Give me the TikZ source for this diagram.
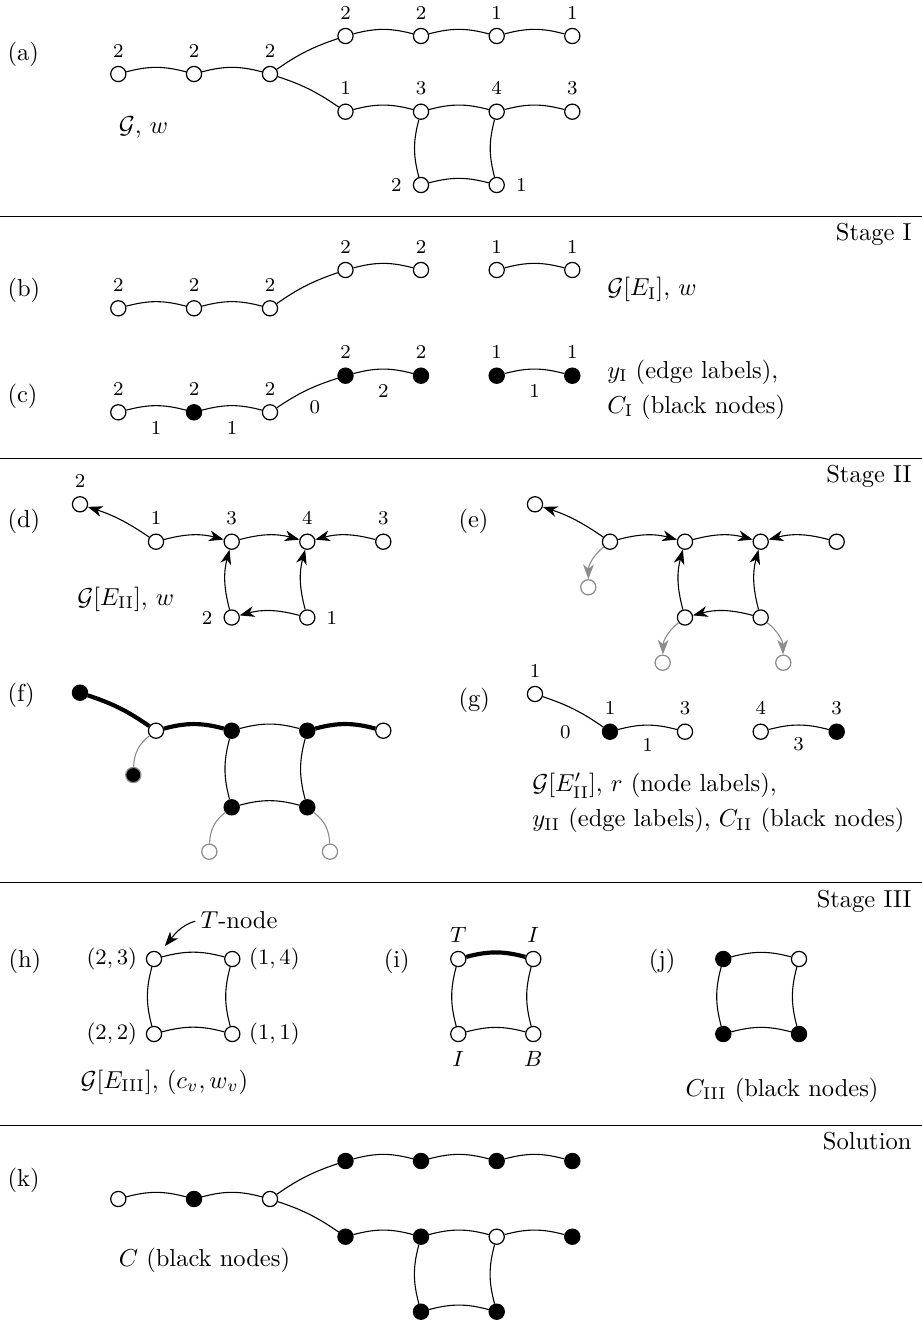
\documentclass[tikz,border=0pt]{standalone}
\usetikzlibrary{arrows.meta}
\tikzset{
  wn/.style={circle, draw=black, fill=white, line width=0.5pt, minimum size=6.2pt, inner sep=0pt},
  bn/.style={wn, fill=black},
  gn/.style={wn, draw=black!45},
  gbn/.style={wn, fill=black, draw=black!45},
  bl/.style={bend left=15},
  bd/.style={bend left=8},
  thk/.style={line width=1.7pt},
  ge/.style={draw=black!45},
  arr/.style={-{Stealth[length=6pt,width=4.4pt,inset=1.8pt]}},
  rarr/.style={{Stealth[length=6pt,width=4.4pt,inset=1.8pt]}-},
  every label/.style={font=\footnotesize},
  sml/.style={font=\small},
  sec/.style={anchor=west, inner sep=0pt},
  txt/.style={anchor=base west, inner sep=0pt},
  stage/.style={anchor=base east, inner sep=0pt},
  sepline/.style={line width=0.6pt},
  elbl/.style={font=\footnotesize, inner sep=0pt},
}
\begin{document}
\begin{tikzpicture}[x=0.408pt, y=-0.408pt, line width=0.45pt]
\useasboundingbox (0,0) rectangle (922,1325);

% separators and stage titles
\draw[sepline] (0,216.7) -- (922,216.7);
\draw[sepline] (0,458.3) -- (922,458.3);
\draw[sepline] (0,882.7) -- (922,882.7);
\draw[sepline] (0,1125.5) -- (922,1125.5);
\node[stage] (s1) at (912,240.5) {Stage I};
\node[stage] (s2) at (912,482.5) {Stage II};
\node[stage] (s3) at (912,907) {Stage III};
\node[stage] (s4) at (912,1149.5) {Solution};

% ---------------- (a)
\node[sec] (la) at (7,54) {(a)};
\node[wn,label=above:2] (a1) at (118.3,74) {};
\node[wn,label=above:2] (a2) at (194,74) {};
\node[wn,label=above:2] (a3) at (270,74) {};
\node[wn,label=above:2] (a4) at (345.5,36) {};
\node[wn,label=above:2] (a5) at (421,36) {};
\node[wn,label=above:1] (a6) at (496.7,36) {};
\node[wn,label=above:1] (a7) at (572.3,36) {};
\node[wn,label=above:1] (a8) at (345.5,111.7) {};
\node[wn,label=above:3] (a9) at (421,111.7) {};
\node[wn,label=above:4] (a10) at (496.7,111.7) {};
\node[wn,label=above:3] (a11) at (572.3,111.7) {};
\node[wn,label={[label distance=1pt]left:2}] (a12) at (421,185) {};
\node[wn,label={[label distance=1pt]right:1}] (a13) at (496.7,185) {};
\draw (a1) to[bl] (a2);
\draw (a2) to[bl] (a3);
\draw (a3) to[bd] (a4);
\draw (a4) to[bl] (a5);
\draw (a5) to[bl] (a6);
\draw (a6) to[bl] (a7);
\draw (a3) to[bd] (a8);
\draw (a8) to[bl] (a9);
\draw (a9) to[bl] (a10);
\draw (a10) to[bl] (a11);
\draw (a12) to[bl] (a9);
\draw (a13) to[bl] (a10);
\draw (a12) to[bl] (a13);
\node[txt] (ta) at (118.3,133.3) {$\mathcal{G}$, $w$};

% ---------------- (b)
\node[sec] (lb) at (7,290) {(b)};
\node[wn,label=above:2] (b1) at (118.3,308.3) {};
\node[wn,label=above:2] (b2) at (194,308.3) {};
\node[wn,label=above:2] (b3) at (270,308.3) {};
\node[wn,label=above:2] (b4) at (345.5,270) {};
\node[wn,label=above:2] (b5) at (421,270) {};
\node[wn,label=above:1] (b6) at (496.7,270) {};
\node[wn,label=above:1] (b7) at (572.3,270) {};
\draw (b1) to[bl] (b2);
\draw (b2) to[bl] (b3);
\draw (b3) to[bd] (b4);
\draw (b4) to[bl] (b5);
\draw (b6) to[bl] (b7);
\node[txt] (tb) at (606.7,295.7) {$\mathcal{G}[E_{\mathrm{I}}]$, $w$};

% ---------------- (c)
\node[sec] (lc) at (7,396.7) {(c)};
\node[wn,label=above:2] (c1) at (118.3,412.3) {};
\node[bn,label=above:2] (c2) at (194,412.3) {};
\node[wn,label=above:2] (c3) at (270,412.3) {};
\node[bn,label=above:2] (c4) at (345.5,375.7) {};
\node[bn,label=above:2] (c5) at (421,375.7) {};
\node[bn,label=above:1] (c6) at (496.7,375.7) {};
\node[bn,label=above:1] (c7) at (572.3,375.7) {};
\draw (c1) to[bl] node[elbl,yshift=-9pt] {1} (c2);
\draw (c2) to[bl] node[elbl,yshift=-9pt] {1} (c3);
\draw (c3) to[bd] node[elbl,xshift=3.6pt,yshift=-6.9pt] {0} (c4);
\draw (c4) to[bl] node[elbl,yshift=-8.9pt] {2} (c5);
\draw (c6) to[bl] node[elbl,yshift=-8.9pt] {1} (c7);
\node[txt] (tc1) at (606.7,378.3) {$y_{\mathrm{I}}$ (edge labels),};
\node[txt] (tc2) at (606.7,413.3) {$C_{\mathrm{I}}$ (black nodes)};

% ---------------- (d)
\node[sec] (ld) at (7,521.7) {(d)};
\node[wn,label=above:2] (d0) at (80,504.3) {};
\node[wn,label=above:1] (d1) at (156,541.7) {};
\node[wn,label=above:3] (d2) at (231.7,541.7) {};
\node[wn,label=above:4] (d3) at (307.3,541.7) {};
\node[wn,label=above:3] (d4) at (383.3,541.7) {};
\node[wn,label={[label distance=1pt]left:2}] (d5) at (231.7,617.5) {};
\node[wn,label={[label distance=1pt]right:1}] (d6) at (307.3,617.5) {};
\draw[rarr] (d0) to[bd] (d1);
\draw[arr] (d1) to[bl] (d2);
\draw[arr] (d2) to[bl] (d3);
\draw[rarr] (d3) to[bl] (d4);
\draw[arr] (d5) to[bl] (d2);
\draw[arr] (d6) to[bl] (d3);
\draw[rarr] (d5) to[bl] (d6);
\node[txt] (td) at (76.7,605) {$\mathcal{G}[E_{\mathrm{II}}]$, $w$};

% ---------------- (e)
\node[sec] (le) at (458,521.7) {(e)};
\node[wn] (e0) at (535,504.3) {};
\node[wn] (e1) at (610,541.7) {};
\node[wn] (e2) at (685,541.7) {};
\node[wn] (e3) at (760.7,541.7) {};
\node[wn] (e4) at (836.7,541.7) {};
\node[wn] (e5) at (685,617.5) {};
\node[wn] (e6) at (760.7,617.5) {};
\node[gn] (eg1) at (588.3,587.3) {};
\node[gn] (eg2) at (662.7,662.7) {};
\node[gn] (eg3) at (783.3,662.7) {};
\draw[rarr] (e0) to[bd] (e1);
\draw[arr] (e1) to[bl] (e2);
\draw[arr] (e2) to[bl] (e3);
\draw[rarr] (e3) to[bl] (e4);
\draw[arr] (e5) to[bl] (e2);
\draw[arr] (e6) to[bl] (e3);
\draw[rarr] (e5) to[bl] (e6);
\draw[ge,arr] (e1) to[bend right=25] (eg1);
\draw[ge,arr] (e5) to[bend right=25] (eg2);
\draw[ge,arr] (e6) to[bend left=25] (eg3);

% ---------------- (f)
\node[sec] (lf) at (7,695) {(f)};
\node[bn] (f0) at (80,692.7) {};
\node[wn] (f1) at (156,730.7) {};
\node[bn] (f2) at (231.7,730.7) {};
\node[bn] (f3) at (307.3,730.7) {};
\node[wn] (f4) at (383.3,730.7) {};
\node[bn] (f5) at (231.7,807.3) {};
\node[bn] (f6) at (307.3,807.3) {};
\node[gbn] (fg0) at (133.3,775) {};
\node[gn] (fg1) at (209.3,851.7) {};
\node[gn] (fg2) at (330,851.7) {};
\draw[thk] (f0) to[bd] (f1);
\draw[thk] (f1) to[bl] (f2);
\draw (f2) to[bl] (f3);
\draw[thk] (f3) to[bl] (f4);
\draw (f5) to[bl] (f2);
\draw (f6) to[bl] (f3);
\draw (f5) to[bl] (f6);
\draw[ge] (f1) to[bend right=25] (fg0);
\draw[ge] (f5) to[bend right=25] (fg1);
\draw[ge] (f6) to[bend left=25] (fg2);

% ---------------- (g)
\node[sec] (lg) at (458,700) {(g)};
\node[wn,label=above:1] (g0) at (535,694) {};
\node[bn,label=above:1] (g1) at (610,731.7) {};
\node[wn,label=above:3] (g2) at (685,731.7) {};
\node[wn,label=above:4] (g3) at (760.7,731.7) {};
\node[bn,label=above:3] (g4) at (836.7,731.7) {};
\draw (g0) to[bd] node[elbl,xshift=-3.6pt,yshift=-9.4pt] {0} (g1);
\draw (g1) to[bl] node[elbl,yshift=-8pt] {1} (g2);
\draw (g3) to[bl] node[elbl,yshift=-8pt] {3} (g4);
\node[txt] (tg1) at (531.7,791.7) {$\mathcal{G}[E'_{\mathrm{II}}]$, $r$ (node labels),};
\node[txt] (tg2) at (531.7,826.7) {$y_{\mathrm{II}}$ (edge labels), $C_{\mathrm{II}}$ (black nodes)};

% ---------------- (h)
\node[sec] (lh) at (8,961.7) {(h)};
\node[wn,label={[sml]left:$(2,3)$}] (h1) at (154,959) {};
\node[wn,label={[sml]right:$(1,4)$}] (h2) at (232.3,959) {};
\node[wn,label={[sml]left:$(2,2)$}] (h3) at (154,1034) {};
\node[wn,label={[sml]right:$(1,1)$}] (h4) at (232.3,1034) {};
\draw (h1) to[bl] (h2);
\draw (h3) to[bl] (h4);
\draw (h3) to[bl] (h1);
\draw (h4) to[bl] (h2);
\node[txt] (tn) at (200,928.3) {$T$-node};
\draw[arr, shorten <=2pt, shorten >=3.5pt] (tn.west) to[out=195, in=50] (h1);
\node[txt] (th) at (80,1088.3) {$\mathcal{G}[E_{\mathrm{III}}]$, $(c_v,w_v)$};

% ---------------- (i)
\node[sec] (li) at (383.3,961.7) {(i)};
\node[wn,label={[sml]above:$T$}] (i1) at (458.3,959) {};
\node[wn,label={[sml]above:$I$}] (i2) at (533.3,959) {};
\node[wn,label={[sml]below:$I$}] (i3) at (458.3,1034) {};
\node[wn,label={[sml]below:$B$}] (i4) at (533.3,1034) {};
\draw[thk] (i1) to[bl] (i2);
\draw (i3) to[bl] (i4);
\draw (i3) to[bl] (i1);
\draw (i4) to[bl] (i2);

% ---------------- (j)
\node[sec] (lj) at (648.3,961.7) {(j)};
\node[bn] (j1) at (723.3,959) {};
\node[wn] (j2) at (799,959) {};
\node[bn] (j3) at (723.3,1034) {};
\node[bn] (j4) at (799,1034) {};
\draw (j1) to[bl] (j2);
\draw (j3) to[bl] (j4);
\draw (j3) to[bl] (j1);
\draw (j4) to[bl] (j2);
\node[txt] (tj) at (685,1096) {$C_{\mathrm{III}}$ (black nodes)};

% ---------------- (k)
\node[sec] (lk) at (7,1180) {(k)};
\node[wn] (k1) at (118.3,1199) {};
\node[bn] (k2) at (194,1199) {};
\node[wn] (k3) at (270,1199) {};
\node[bn] (k4) at (345.5,1161) {};
\node[bn] (k5) at (421,1161) {};
\node[bn] (k6) at (496.7,1161) {};
\node[bn] (k7) at (572.3,1161) {};
\node[bn] (k8) at (345.5,1236.7) {};
\node[bn] (k9) at (421,1236.7) {};
\node[wn] (k10) at (496.7,1236.7) {};
\node[bn] (k11) at (572.3,1236.7) {};
\node[bn] (k12) at (421,1311.7) {};
\node[bn] (k13) at (496.7,1311.7) {};
\draw (k1) to[bl] (k2);
\draw (k2) to[bl] (k3);
\draw (k3) to[bd] (k4);
\draw (k4) to[bl] (k5);
\draw (k5) to[bl] (k6);
\draw (k6) to[bl] (k7);
\draw (k3) to[bd] (k8);
\draw (k8) to[bl] (k9);
\draw (k9) to[bl] (k10);
\draw (k10) to[bl] (k11);
\draw (k12) to[bl] (k9);
\draw (k13) to[bl] (k10);
\draw (k12) to[bl] (k13);
\node[txt] (tk) at (118.3,1266.7) {$C$ (black nodes)};
\end{tikzpicture}
\end{document}
